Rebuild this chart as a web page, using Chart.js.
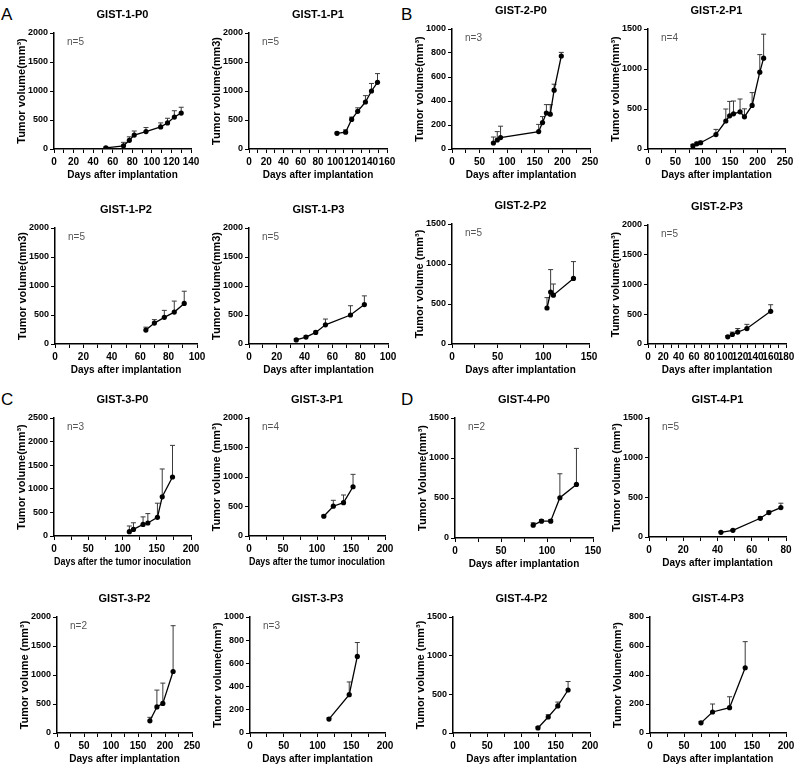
<!DOCTYPE html>
<html>
<head>
<meta charset="utf-8">
<script src="https://cdn.jsdelivr.net/npm/chart.js@4.4.0/dist/chart.umd.min.js"></script>
<style>
  body { margin: 0; background: #fff; }
  #fig { position: relative; width: 800px; height: 770px; overflow: hidden; font-family: Arial, "Liberation Sans", sans-serif; }
  #fig canvas { position: absolute; }
  .panel { position: absolute; font-size: 17px; color: #000; }
</style>
</head>
<body>
<div id="fig">
  <div class="panel" style="left:1px;top:5px">A</div>
  <div class="panel" style="left:401px;top:5px">B</div>
  <div class="panel" style="left:1px;top:390px">C</div>
  <div class="panel" style="left:401px;top:390px">D</div>
</div>
<script>
// ---- data (days, mean volume, upper error) ----
const g1p0Days = [53, 71, 77, 82, 94, 109, 116, 123, 130];
const g1p0Vol  = [20, 55, 150, 240, 300, 380, 450, 550, 620];
const g1p0Err  = [15, 60, 60, 70, 70, 70, 80, 110, 100];

const g1p1Days = [102, 112, 119, 126, 135, 142, 149];
const g1p1Vol  = [270, 290, 510, 650, 810, 1000, 1150];
const g1p1Err  = [20, 40, 40, 60, 110, 130, 150];

const g2p0Days = [75, 82, 88, 157, 164, 171, 178, 185, 198];
const g2p0Vol  = [50, 75, 95, 145, 220, 300, 290, 490, 775];
const g2p0Err  = [50, 70, 95, 60, 50, 70, 80, 50, 30];

const g2p1Days = [82, 89, 96, 124, 142, 149, 156, 168, 176, 190, 204, 211];
const g2p1Vol  = [38, 65, 78, 180, 350, 415, 440, 465, 402, 545, 960, 1135];
const g2p1Err  = [20, 20, 20, 65, 150, 180, 160, 160, 100, 160, 220, 300];

const g1p2Days = [64, 70, 77, 84, 91];
const g1p2Vol  = [240, 360, 460, 550, 700];
const g1p2Err  = [50, 60, 120, 190, 210];

const g1p3Days = [34, 41, 48, 55, 73, 83];
const g1p3Vol  = [70, 120, 200, 330, 500, 680];
const g1p3Err  = [20, 20, 20, 100, 160, 150];

const g2p2Days = [104, 108, 111, 133];
const g2p2Vol  = [450, 650, 610, 820];
const g2p2Err  = [130, 280, 140, 210];

const g2p3Days = [104, 110, 117, 129, 160];
const g2p3Vol  = [120, 160, 200, 260, 550];
const g2p3Err  = [20, 40, 60, 70, 110];

const g3p0Days = [110, 116, 130, 137, 151, 158, 173];
const g3p0Vol  = [92, 140, 245, 275, 395, 830, 1250];
const g3p0Err  = [120, 140, 160, 200, 300, 590, 670];

const g3p1Days = [110, 124, 139, 153];
const g3p1Vol  = [335, 505, 565, 835];
const g3p1Err  = [20, 100, 130, 210];

const g4p0Days = [85, 94, 104, 114, 132];
const g4p0Vol  = [160, 210, 210, 503, 670];
const g4p0Err  = [30, 20, 20, 300, 450];

const g4p1Days = [42, 49, 65, 70, 77];
const g4p1Vol  = [59, 84, 236, 308, 371];
const g4p1Err  = [10, 10, 20, 20, 55];

const g3p2Days = [172, 185, 196, 215];
const g3p2Vol  = [210, 450, 510, 1060];
const g3p2Err  = [60, 290, 350, 790];

const g3p3Days = [117, 147, 159];
const g3p3Vol  = [120, 330, 660];
const g3p3Err  = [10, 110, 120];

const g4p2Days = [124, 139, 153, 168];
const g4p2Vol  = [65, 207, 350, 556];
const g4p2Err  = [15, 30, 50, 110];

const g4p3Days = [75, 92, 117, 140];
const g4p3Vol  = [70, 145, 175, 450];
const g4p3Err  = [10, 55, 75, 180];

const titles = ['GIST-1-P0', 'GIST-1-P1', 'GIST-2-P0', 'GIST-2-P1',
                'GIST-1-P2', 'GIST-1-P3', 'GIST-2-P2', 'GIST-2-P3',
                'GIST-3-P0', 'GIST-3-P1', 'GIST-4-P0', 'GIST-4-P1',
                'GIST-3-P2', 'GIST-3-P3', 'GIST-4-P2', 'GIST-4-P3'];
const nLabels = ['n=5', 'n=5', 'n=3', 'n=4', 'n=5', 'n=5', 'n=5', 'n=5',
                 'n=3', 'n=4', 'n=2', 'n=5', 'n=2', 'n=3', '', ''];
const yTitles = ['Tumor volume(mm³)', 'Tumor volume(mm3)', 'Tumor volume(mm³)', 'Tumor volume(mm³)',
                 'Tumor volume(mm3)', 'Tumor volume(mm3)', 'Tumor volume (mm³)', 'Tumor volume(mm³)',
                 'Tumor volume(mm³)', 'Tumor volume (mm³)', 'Tumor Volume(mm³)', 'Tumor volume (mm³)',
                 'Tumor volume (mm³)', 'Tumor volume(mm³)', 'Tumor volume (mm³)', 'Tumor Volume(mm³)'];
const xTitles = titles.map((t, i) => (i === 8 || i === 9) ? 'Days after the tumor inoculation' : 'Days after implantation');
const xMax  = [140, 160, 250, 250, 100, 100, 150, 180, 200, 200, 150, 80, 250, 200, 200, 200];
const xStep = [20, 20, 50, 50, 20, 20, 50, 20, 50, 50, 50, 20, 50, 50, 50, 50];
const yMax  = [2000, 2000, 1000, 1500, 2000, 2000, 1500, 2000, 2500, 2000, 1500, 1500, 2000, 1000, 1500, 800];
const yStep = [500, 500, 200, 500, 500, 500, 500, 500, 500, 500, 500, 500, 500, 200, 500, 200];

const series = [
  [g1p0Days, g1p0Vol, g1p0Err], [g1p1Days, g1p1Vol, g1p1Err], [g2p0Days, g2p0Vol, g2p0Err], [g2p1Days, g2p1Vol, g2p1Err],
  [g1p2Days, g1p2Vol, g1p2Err], [g1p3Days, g1p3Vol, g1p3Err], [g2p2Days, g2p2Vol, g2p2Err], [g2p3Days, g2p3Vol, g2p3Err],
  [g3p0Days, g3p0Vol, g3p0Err], [g3p1Days, g3p1Vol, g3p1Err], [g4p0Days, g4p0Vol, g4p0Err], [g4p1Days, g4p1Vol, g4p1Err],
  [g3p2Days, g3p2Vol, g3p2Err], [g3p3Days, g3p3Vol, g3p3Err], [g4p2Days, g4p2Vol, g4p2Err], [g4p3Days, g4p3Vol, g4p3Err]
];

// plot area of each panel on the page: left, top, right, bottom
const boxes = [
  [54, 33, 191, 149], [249, 33, 387, 149], [452, 29, 590, 149], [648, 29, 785, 149],
  [55, 228, 197, 344], [249, 228, 388, 344], [452, 224, 589, 344], [648, 225, 786, 344],
  [54, 418, 191, 536], [249, 418, 385, 536], [455, 418, 593, 538], [649, 418, 786, 537],
  [57, 617, 192, 733], [250, 617, 385, 733], [453, 617, 590, 733], [650, 617, 786, 733]
];

const FONT = 'Arial, "Liberation Sans", sans-serif';
const Y_W = 48, X_H = 36, PAD_TOP = 30, PAD_RIGHT = 12;

// error bars (upper only), panel title and n= label
const extras = {
  id: 'extras',
  beforeDatasetsDraw(chart, args, o) {
    const ctx = chart.ctx;
    const y = chart.scales.y;
    const pts = chart.getDatasetMeta(0).data;
    ctx.save();
    ctx.strokeStyle = '#3a3a3a';
    ctx.lineWidth = 1;
    pts.forEach((p, k) => {
      const top = y.getPixelForValue(o.vol[k] + o.err[k]);
      ctx.beginPath();
      ctx.moveTo(p.x, p.y);
      ctx.lineTo(p.x, top);
      ctx.moveTo(p.x - 2.5, top);
      ctx.lineTo(p.x + 2.5, top);
      ctx.stroke();
    });
    ctx.restore();
  },
  afterDraw(chart, args, o) {
    const ctx = chart.ctx;
    const a = chart.chartArea;
    ctx.save();
    ctx.fillStyle = '#000';
    ctx.font = 'bold 11px ' + FONT;
    ctx.textAlign = 'center';
    ctx.textBaseline = 'middle';
    ctx.fillText(o.title, (a.left + a.right) / 2, a.top - 18);
    if (o.n) {
      ctx.font = '10px ' + FONT;
      ctx.fillStyle = '#555';
      ctx.textAlign = 'left';
      ctx.fillText(o.n, a.left + 13, a.top + 9);
    }
    ctx.restore();
  }
};

const fig = document.getElementById('fig');

function makeChart(i) {
  const [x0, y0, x1, y1] = boxes[i];
  const left = x0 - Y_W, top = y0 - PAD_TOP;
  const w = x1 + PAD_RIGHT - left, h = y1 + X_H - top;
  const cv = document.createElement('canvas');
  cv.width = w; cv.height = h;
  cv.style.left = left + 'px'; cv.style.top = top + 'px';
  cv.style.width = w + 'px'; cv.style.height = h + 'px';
  fig.appendChild(cv);

  const [days, vol, err] = series[i];

  new Chart(cv, {
    type: 'line',
    data: {
      datasets: [{
        data: days.map((d, k) => ({ x: d, y: vol[k] })),
        borderColor: '#000',
        borderWidth: 1.3,
        pointRadius: 2.6,
        pointBackgroundColor: '#000',
        pointBorderWidth: 0,
        tension: 0
      }]
    },
    options: {
      responsive: false,
      animation: false,
      devicePixelRatio: 1,
      layout: { padding: { left: 0, top: PAD_TOP, right: PAD_RIGHT, bottom: 0 } },
      plugins: {
        legend: { display: false },
        tooltip: { enabled: false },
        extras: { title: titles[i], n: nLabels[i], vol: vol, err: err }
      },
      scales: {
        x: {
          type: 'linear',
          min: 0,
          max: xMax[i],
          afterFit: s => { s.height = X_H; },
          ticks: {
            stepSize: xStep[i] / 2,
            autoSkip: false,
            maxRotation: 0,
            padding: 3,
            color: '#000',
            font: { family: FONT, size: 10, weight: 'bold' },
            callback: v => (Math.round(v / (xStep[i] / 2)) % 2 === 0 ? String(v) : '')
          },
          grid: { drawOnChartArea: false, color: '#000', tickLength: 4 },
          border: { color: '#000', width: 1.5 },
          title: {
            display: true, text: xTitles[i], color: '#000',
            font: { family: FONT, size: 10, weight: 'bold' },
            padding: { top: 0, bottom: 4 }
          }
        },
        y: {
          min: 0,
          max: yMax[i],
          afterFit: s => { s.width = Y_W; },
          ticks: {
            stepSize: yStep[i],
            padding: 2,
            color: '#000',
            font: { family: FONT, size: 9, weight: 'bold' },
            callback: v => String(v)
          },
          grid: { drawOnChartArea: false, color: '#000', tickLength: 4 },
          border: { color: '#000', width: 1.5 },
          title: {
            display: true, text: yTitles[i], color: '#000',
            font: { family: FONT, size: 11, weight: 'bold' },
            padding: { top: 9, bottom: 0 }
          }
        }
      }
    },
    plugins: [extras]
  });
}

for (let i = 0; i < titles.length; i++) makeChart(i);
</script>
</body>
</html>
